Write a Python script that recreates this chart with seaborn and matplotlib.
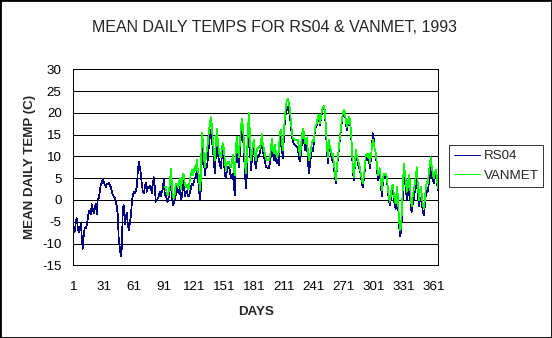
import numpy as np
import pandas as pd
import matplotlib
matplotlib.use("Agg")
import matplotlib.pyplot as plt
import seaborn as sns
from matplotlib.patches import Rectangle

title = "MEAN DAILY TEMPS FOR RS04 & VANMET, 1993"
xlabel = "DAYS"
ylabel = "MEAN DAILY TEMP (C)"
xtick_labels = [1, 31, 61, 91, 121, 151, 181, 211, 241, 271, 301, 331, 361]
ytick_values = [-15, -10, -5, 0, 5, 10, 15, 20, 25, 30]

rs04_start = 1
rs04 = [
    -6.1, -7.3, -5.0, -4.2, -6.5, -7.5, -6.8, -5.4, -8.5, -11.2,
    -8.0, -6.3, -6.5, -5.8, -4.3, -2.5, -2.8, -3.2, -1.0, -2.0,
    -3.0, -1.8, -0.8, -3.2, 0.3, 0.5, 1.9, 3.5, 3.8, 4.9,
    4.2, 3.5, 3.0, 3.8, 3.6, 3.9, 3.4, 3.0, 2.0, 1.2,
    0.8, 0.5, -0.3, -1.5, -3.5, -9.5, -11.0, -13.0, -11.0, -2.0,
    -1.2, -5.5, -4.0, -3.0, -5.5, -7.0, -5.5, -3.8, -0.8, 1.1,
    1.9, 1.5, 2.0, 3.0, 6.5, 8.8, 7.5, 6.0, 3.8, 1.9,
    1.5, 2.7, 4.0, 1.9, 3.0, 2.8, 3.2, 3.0, 1.5, 3.6,
    5.2, 3.0, -0.4, 0.0, 0.3, 0.8, 1.9, 0.8, 1.9, 2.5,
    4.8, 1.1, 1.5, 0.0, -0.4, 0.8, 2.3, 4.6, 1.5, -1.2,
    -0.8, 0.4, 1.1, 3.0, 2.0, 1.5, 3.0, 0.0, 0.8, 2.3,
    4.6, 0.8, 1.5, 2.2, 1.0, 0.8, 1.5, 2.7, 3.8, 3.4,
    4.0, 5.0, 5.0, 6.9, 5.0, 3.4, 0.0, 2.3, 9.2, 13.0,
    9.2, 5.7, 7.6, 7.6, 9.2, 12.2, 14.5, 16.1, 13.8, 11.9,
    9.2, 6.1, 10.0, 12.6, 11.1, 9.2, 8.0, 7.3, 9.9, 11.5,
    9.5, 5.7, 5.0, 6.5, 7.6, 7.6, 6.9, 5.0, 5.5, 6.1,
    3.6, 1.1, 9.9, 11.5, 9.9, 7.6, 10.7, 14.2, 17.2, 15.7,
    11.1, 6.9, 2.7, 5.7, 13.0, 17.2, 13.0, 6.9, 8.8, 10.7,
    13.0, 9.2, 7.3, 9.2, 9.9, 10.3, 10.7, 11.9, 13.4, 11.5,
    9.9, 9.2, 7.6, 7.5, 7.3, 7.3, 8.4, 9.9, 11.9, 10.7,
    9.2, 11.1, 9.2, 8.4, 9.2, 8.0, 13.0, 14.9, 12.2, 9.5,
    13.8, 18.0, 19.9, 20.7, 21.4, 20.7, 19.5, 17.2, 14.9, 13.4,
    13.0, 12.6, 12.4, 12.2, 11.9, 9.9, 8.8, 10.3, 13.0, 15.7,
    14.5, 11.5, 12.6, 13.0, 9.5, 6.1, 7.6, 9.9, 11.5, 11.1,
    13.0, 15.7, 16.8, 17.2, 18.7, 19.1, 17.2, 18.4, 19.9, 21.0,
    21.4, 20.3, 16.4, 11.9, 8.4, 13.4, 11.5, 10.7, 9.2, 9.9,
    7.6, 5.7, 3.8, 6.9, 9.5, 11.5, 13.8, 15.7, 18.0, 19.5,
    20.3, 19.9, 18.0, 16.1, 17.2, 18.7, 18.4, 16.1, 11.9, 6.9,
    4.6, 7.6, 11.1, 9.9, 8.4, 7.6, 6.9, 5.7, 3.8, 3.0,
    4.6, 6.9, 9.5, 9.9, 9.2, 9.9, 7.3, 9.2, 11.9, 15.3,
    13.8, 11.5, 10.7, 7.6, 4.6, 5.7, 6.9, 3.8, 0.8, 3.8,
    5.3, 5.0, 5.7, 5.0, 2.3, 0.0, -1.2, 0.4, 2.3, 2.3,
    0.4, -1.5, -2.0, 1.5, 0.0, -4.5, -8.4, -7.7, -4.6, 0.8,
    5.7, 4.2, 3.0, 0.0, 1.1, 3.0, 1.9, -1.9, -2.7, -0.8,
    0.4, 1.9, 2.7, 4.6, 1.5, -1.5, 0.0, 0.4, -0.8, -2.7,
    -3.5, -1.5, 1.1, 2.7, 1.9, 3.8, 5.3, 7.3, 5.7, 4.6,
    3.8, 5.3, 5.7, 4.6, 2.3,
]

vanmet_start = 92
vanmet = [
    3.0, 3.0, 1.5, 1.0, 2.0, 3.5, 7.1, 3.8, 0.8,
    0.4, 1.5, 3.8, 3.8, 3.0, 4.0, 5.0, 2.5, 4.0, 6.1,
    5.7, 3.8, 3.0, 3.4, 2.5, 2.7, 4.5, 5.7, 6.9, 5.7,
    6.5, 7.6, 6.9, 9.2, 7.0, 5.7, 2.3, 4.6, 15.5, 14.0,
    10.5, 7.6, 9.5, 11.5, 13.0, 15.7, 17.2, 19.0, 17.2, 13.8,
    11.5, 9.2, 13.0, 16.4, 13.8, 11.5, 10.0, 9.9, 11.9, 13.0,
    11.9, 9.2, 6.9, 8.4, 8.8, 8.8, 8.0, 7.6, 8.4, 10.3,
    7.0, 5.7, 11.5, 14.5, 12.2, 9.9, 12.6, 16.4, 18.7, 17.2,
    13.8, 8.4, 6.1, 9.0, 15.3, 19.9, 16.1, 9.2, 10.7, 12.2,
    13.8, 10.7, 9.2, 11.5, 11.9, 12.2, 11.9, 13.0, 15.1, 13.0,
    11.9, 10.7, 9.5, 9.2, 9.2, 9.2, 9.9, 11.5, 14.0, 11.9,
    10.7, 12.6, 11.1, 9.9, 10.3, 11.1, 15.3, 16.1, 13.8, 11.5,
    15.3, 19.1, 21.4, 22.9, 23.3, 22.6, 21.0, 18.4, 15.7, 14.2,
    14.0, 13.8, 13.8, 13.8, 13.8, 12.2, 10.3, 11.9, 14.5, 16.4,
    15.7, 13.0, 13.8, 14.2, 11.5, 9.2, 9.9, 11.5, 13.0, 13.8,
    13.4, 16.1, 17.2, 17.6, 19.1, 19.5, 17.6, 18.7, 20.3, 21.4,
    21.6, 20.7, 17.2, 12.6, 9.9, 13.8, 12.2, 11.5, 10.3, 10.7,
    8.4, 6.5, 4.6, 7.3, 9.9, 11.9, 14.2, 16.1, 18.4, 19.9,
    20.7, 20.3, 18.4, 16.8, 17.6, 19.1, 18.7, 16.4, 12.6, 7.6,
    5.3, 8.0, 11.5, 10.3, 9.2, 8.4, 7.6, 6.1, 4.6, 3.8,
    5.3, 7.6, 10.3, 10.7, 9.9, 10.7, 8.4, 9.9, 11.9, 13.8,
    13.0, 11.5, 10.7, 8.4, 5.7, 6.1, 7.3, 4.6, 2.3, 4.6,
    6.1, 5.7, 6.1, 5.3, 3.0, 0.8, -0.4, 1.1, 3.0, 3.4,
    1.5, -0.4, -0.8, 3.0, 1.1, -3.5, -6.9, -6.5, -3.1, 3.0,
    8.3, 6.5, 4.6, 1.9, 3.0, 5.7, 4.6, 0.0, -1.5, 1.1,
    2.3, 3.8, 5.3, 7.5, 3.8, 0.0, 1.9, 3.0, 1.1, -1.2,
    -1.9, 0.0, 2.7, 4.2, 3.8, 6.1, 8.0, 9.8, 7.6, 6.1,
    5.0, 6.1, 6.9, 5.7, 2.7,
]

series_names = ["RS04", "VANMET"]
series_colors = {"RS04": "#000080", "VANMET": "#00FF00"}

df = pd.concat([
    pd.DataFrame({"day": np.arange(rs04_start, rs04_start + len(rs04)),
                  "temp": rs04, "series": "RS04"}),
    pd.DataFrame({"day": np.arange(vanmet_start, vanmet_start + len(vanmet)),
                  "temp": vanmet, "series": "VANMET"}),
], ignore_index=True)

sns.set_style("white")
plt.rcParams["font.family"] = ["Liberation Sans", "DejaVu Sans"]

W, H = 552, 338
fig = plt.figure(figsize=(W / 100, H / 100), dpi=100)
ax = fig.add_axes([73.3 / W, 1 - 265.3 / H, 365 / W, 196 / H])

sns.lineplot(data=df, x="day", y="temp", hue="series", hue_order=series_names,
             palette=series_colors, linewidth=0.5, ax=ax, legend=False,
             estimator=None, sort=True, antialiased=False)

ax.set_xlim(0.5, 365.5)
ax.set_ylim(-15, 30)
ax.set_xticks(xtick_labels)
ax.set_xticklabels([str(v) for v in xtick_labels], fontsize=9.6)
ax.set_yticks(ytick_values)
ax.set_yticklabels([str(v) for v in ytick_values], fontsize=9.6)
ax.set_xlabel("")
ax.set_ylabel("")
ax.yaxis.grid(True, color="black", linewidth=0.7, antialiased=False)
ax.xaxis.grid(False)
ax.set_axisbelow(True)
for s in ax.spines.values():
    s.set_color("black")
    s.set_linewidth(0.7)
    s.set_visible(True)
    s.set_antialiased(False)
ax.tick_params(axis="x", direction="out", length=4, width=0.7, pad=7.5, colors="black")
ax.tick_params(axis="y", direction="out", length=2.4, width=0.7, pad=6, colors="black")

fig.text(275 / W, 1 - 27.5 / H, title, fontsize=11.5, ha="center", va="center")
fig.text(255.8 / W, 1 - 311.6 / H, xlabel, fontsize=9.6, fontweight="bold",
         ha="center", va="center")
fig.text(30 / W, 1 - 167.3 / H, ylabel, fontsize=9.6, fontweight="bold",
         ha="center", va="center", rotation=90)

handles = [plt.Line2D([], [], color=series_colors[n], linewidth=0.7, antialiased=False)
           for n in series_names]
leg = fig.legend(handles, series_names, loc="upper left",
                 bbox_to_anchor=(449 / W, 1 - 145.3 / H), bbox_transform=fig.transFigure,
                 fontsize=9.6, frameon=True, fancybox=False, borderpad=0.35,
                 handlelength=2.0, handletextpad=0.25, labelspacing=0.55,
                 borderaxespad=0)
leg.get_frame().set_edgecolor("black")
leg.get_frame().set_linewidth(0.7)

fig.patches.append(Rectangle((0, 0), 1, 1, transform=fig.transFigure, fill=False,
                             edgecolor="black", linewidth=2.0))

fig.savefig("out.png", dpi=100, facecolor="white")
